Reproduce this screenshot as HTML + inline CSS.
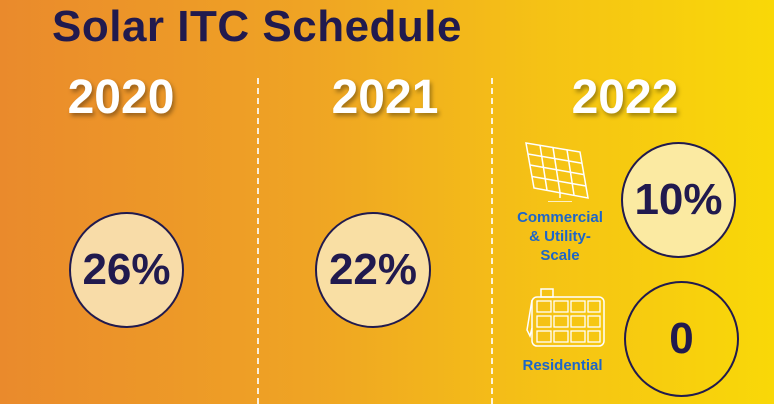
<!DOCTYPE html>
<html><head><style>
body{margin:0}
#c{position:relative;width:774px;height:404px;overflow:hidden;background:linear-gradient(90deg,#ea8a2c 0%,#efa424 40%,#f5c215 70%,#f9d808 100%);font-family:"Liberation Sans",sans-serif;font-weight:bold}
.t{position:absolute;left:52px;top:2px;font-size:44px;color:#211a4e;letter-spacing:0.5px}
.y{position:absolute;top:70px;font-size:48px;color:#fff;text-shadow:2px 3px 4px rgba(0,0,0,0.35);width:200px;text-align:center}
.d{position:absolute;top:78px;height:326px;border-left:2px dashed rgba(255,255,255,0.85)}
.ci{position:absolute;border:2px solid #211a4e;border-radius:50%;display:flex;align-items:center;justify-content:center;color:#211a4e;font-size:44px;box-sizing:border-box}
.l{position:absolute;color:#1d66c9;font-size:15px;text-align:center;line-height:19px}
</style></head><body><div id="c">
<div class="t">Solar ITC Schedule</div>
<div class="y" style="left:21px">2020</div>
<div class="y" style="left:285px">2021</div>
<div class="y" style="left:525px">2022</div>
<div class="d" style="left:257px"></div>
<div class="d" style="left:491px"></div>
<div class="ci" style="left:69px;top:212px;width:115px;height:116px;background:#f8dca8">26%</div>
<div class="ci" style="left:315px;top:212px;width:116px;height:116px;background:#f9dfa4">22%</div>
<div class="ci" style="left:621px;top:142px;width:115px;height:116px;background:#fbeaa2">10%</div>
<div class="ci" style="left:624px;top:281px;width:115px;height:116px">0</div>
<svg style="position:absolute;left:520px;top:140px" width="75" height="62" viewBox="0 0 75 62" fill="none" stroke="#fff" stroke-width="1.5">
<polygon points="6,3 60,12 68,58 14,48"/>
<path d="M20,5.3 L27,50.3 M33,7.5 L40,52.6 M47,9.7 L54,55 M8,14 L62,23.3 M10,25 L64,34.6 M12,36.5 L66,46"/>
<path d="M40,52 L40,58 M28,62 L52,62"/>
</svg>
<svg style="position:absolute;left:524px;top:288px" width="82" height="60" viewBox="0 0 82 60" fill="none" stroke="#fff" stroke-width="1.5">
<rect x="17" y="1" width="12" height="8"/>
<rect x="8" y="9" width="72" height="49" rx="5"/>
<path d="M8,12 L3,42 L6,48 L8,40"/>
<g stroke-width="1.3"><rect x="13" y="13" width="14" height="11"/><rect x="30" y="13" width="14" height="11"/><rect x="47" y="13" width="14" height="11"/><rect x="64" y="13" width="12" height="11"/>
<rect x="13" y="28" width="14" height="11"/><rect x="30" y="28" width="14" height="11"/><rect x="47" y="28" width="14" height="11"/><rect x="64" y="28" width="12" height="11"/>
<rect x="13" y="43" width="14" height="11"/><rect x="30" y="43" width="14" height="11"/><rect x="47" y="43" width="14" height="11"/><rect x="64" y="43" width="12" height="11"/></g>
</svg>
<div class="l" style="left:510px;top:208px;width:100px">Commercial<br>&amp; Utility-<br>Scale</div>
<div class="l" style="left:515px;top:356px;width:95px">Residential</div>
</div></body></html>
